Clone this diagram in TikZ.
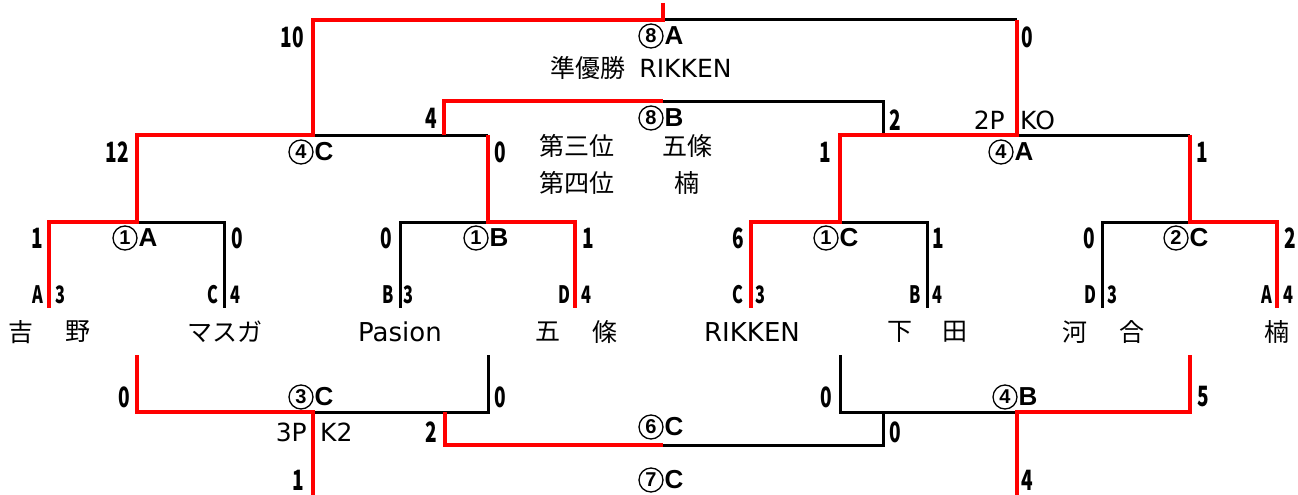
\documentclass[tikz,border=0pt]{standalone}
\usepackage{fontspec}
\usepackage{graphicx}
\setmainfont{Noto Sans CJK JP}
\newfontfamily\dvs{DejaVu Sans}
\newfontfamily\lsb{Liberation Sans}
\newcommand\cnd[1]{\scalebox{0.68}[1]{#1}}
\tikzset{
  blk/.style={line width=3pt, black, line join=miter},
  rd/.style={line width=4.5pt, red, line join=miter},
  sco/.style={font=\fontsize{28}{28}\selectfont\bfseries, inner sep=0pt},
  circ/.style={circle, draw, line width=1.3pt, minimum size=24pt, inner sep=0pt, font=\lsb\bfseries\fontsize{20}{20}\selectfont},
  lett/.style={inner sep=0pt, anchor=west, font=\lsb\bfseries\fontsize{26}{26}\selectfont},
  seed/.style={font=\fontsize{24}{24}\selectfont\bfseries, inner sep=0pt},
  nm/.style={font=\fontsize{25}{25}\selectfont, inner sep=0pt},
  nml/.style={font=\dvs\fontsize{26}{26}\selectfont, inner sep=0pt},
  sm/.style={font=\fontsize{25}{25}\selectfont, inner sep=0pt},
  sml/.style={font=\dvs\fontsize{25}{25}\selectfont, inner sep=0pt},
}
\newcommand\mlab[5]{%
  \node[circ] (#1c) at (#2-12,#3) {#4};
  \node[lett] (#1l) at (#2+1.5,#3) {#5};}
\begin{document}
\begin{tikzpicture}[x=1pt,y=-1pt]
\useasboundingbox (0,0) rectangle (1298,495);
% ---- black lines
\draw[blk] (663,20) -- (1017,20);
\draw[blk] (663,101) -- (883,101) -- (883,135);
\draw[blk] (313,135) -- (488,135);
\draw[blk] (1017,135) -- (1190,135);
\draw[blk] (137,222) -- (224,222) -- (224,308);
\draw[blk] (400,308) -- (400,222) -- (488,222);
\draw[blk] (840,222) -- (927,222) -- (927,308);
\draw[blk] (1102,308) -- (1102,222) -- (1190,222);
\draw[blk] (488,355) -- (488,412) -- (313,412);
\draw[blk] (663,445) -- (883,445) -- (883,412);
\draw[blk] (840,355) -- (840,412) -- (1017,412);
% ---- red lines
\draw[rd] (663,3) -- (663,20) -- (313,20) -- (313,135) -- (137,135) -- (137,222) -- (49,222) -- (49,308);
\draw[rd] (1017,20) -- (1017,135) -- (840,135) -- (840,222) -- (751,222) -- (751,308);
\draw[rd] (444,135) -- (444,101) -- (663,101);
\draw[rd] (488,135) -- (488,222) -- (575,222) -- (575,308);
\draw[rd] (1190,135) -- (1190,222) -- (1277,222) -- (1277,308);
\draw[rd] (137,355) -- (137,412) -- (313,412) -- (313,495);
\draw[rd] (445,412) -- (445,445) -- (663,445);
\draw[rd] (1190,355) -- (1190,412) -- (1017,412) -- (1017,495);
% ---- scores
\node[sco] (s1) at (292,37) {\cnd{10}};
\node[sco] (s2) at (1027,37) {\cnd{0}};
\node[sco] (s3) at (431,118) {\cnd{4}};
\node[sco] (s4) at (895,120) {\cnd{2}};
\node[sco] (s5) at (117,152) {\cnd{12}};
\node[sco] (s6) at (500,152) {\cnd{0}};
\node[sco] (s7) at (825,152) {\cnd{1}};
\node[sco] (s8) at (1202,152) {\cnd{1}};
\node[sco] (r1) at (37,238) {\cnd{1}};
\node[sco] (r2) at (237,238) {\cnd{0}};
\node[sco] (r3) at (386,238) {\cnd{0}};
\node[sco] (r4) at (588,238) {\cnd{1}};
\node[sco] (r5) at (738,238) {\cnd{6}};
\node[sco] (r6) at (938,238) {\cnd{1}};
\node[sco] (r7) at (1089,238) {\cnd{0}};
\node[sco] (r8) at (1290,238) {\cnd{2}};
\node[sco] (b1) at (124,397) {\cnd{0}};
\node[sco] (b2) at (500,397) {\cnd{0}};
\node[sco] (b3) at (431,432) {\cnd{2}};
\node[sco] (b4) at (298,480) {\cnd{1}};
\node[sco] (b5) at (826,397) {\cnd{0}};
\node[sco] (b6) at (1203,397) {\cnd{5}};
\node[sco] (b7) at (895,432) {\cnd{0}};
\node[sco] (b8) at (1027,480) {\cnd{4}};
% ---- match labels
\mlab{m8a}{663}{36}{8}{A}
\mlab{m8b}{663}{118}{8}{B}
\mlab{m4c}{313}{152}{4}{C}
\mlab{m4a}{1013}{152}{4}{A}
\mlab{m1a}{137}{238}{1}{A}
\mlab{m1b}{488}{238}{1}{B}
\mlab{m1c}{838}{238}{1}{C}
\mlab{m2c}{1188}{238}{2}{C}
\mlab{m3c}{313}{397}{3}{C}
\mlab{m4b}{1017}{397}{4}{B}
\mlab{m6c}{663}{427}{6}{C}
\mlab{m7c}{663}{480}{7}{C}
% ---- small texts
\node[sm] (t1) at (641,68) {準優勝\hspace{14pt}{\dvs RIKKEN}};
\node[sm] (t2) at (577,146) {第三位};
\node[sm] (t3) at (687,146) {五條};
\node[sm] (t4) at (577,183) {第四位};
\node[sm] (t5) at (687,183) {楠};
\node[sml, anchor=east] (t6) at (1005,120) {2P};
\node[sml, anchor=west] (t7) at (1020,120) {KO};
\node[sml, anchor=east] (t8) at (307,432) {3P};
\node[sml, anchor=west] (t9) at (320,432) {K2};
% ---- seeds
\node[seed] (d1) at (38,295) {\cnd{A}};
\node[seed] (d2) at (60,295) {\cnd{3}};
\node[seed] (d3) at (213,295) {\cnd{C}};
\node[seed] (d4) at (235,295) {\cnd{4}};
\node[seed] (d5) at (388,295) {\cnd{B}};
\node[seed] (d6) at (408,295) {\cnd{3}};
\node[seed] (d7) at (564,295) {\cnd{D}};
\node[seed] (d8) at (586,295) {\cnd{4}};
\node[seed] (d9) at (738,295) {\cnd{C}};
\node[seed] (d10) at (760,295) {\cnd{3}};
\node[seed] (d11) at (915,295) {\cnd{B}};
\node[seed] (d12) at (937,295) {\cnd{4}};
\node[seed] (d13) at (1090,295) {\cnd{D}};
\node[seed] (d14) at (1112,295) {\cnd{3}};
\node[seed] (d15) at (1267,295) {\cnd{A}};
\node[seed] (d16) at (1288,295) {\cnd{4}};
% ---- names
\node[nm] (n1) at (21,332) {吉};
\node[nm] (n2) at (78,332) {野};
\node[nm] (n3) at (225,332) {マスガ};
\node[nml] (n4) at (400,332) {Pasion};
\node[nm] (n5) at (548,332) {五};
\node[nm] (n6) at (605,332) {條};
\node[nml] (n7) at (752,332) {RIKKEN};
\node[nm] (n8) at (900,332) {下};
\node[nm] (n9) at (955,332) {田};
\node[nm] (n10) at (1075,332) {河};
\node[nm] (n11) at (1132,332) {合};
\node[nm] (n12) at (1277,332) {楠};
\end{tikzpicture}
\end{document}
